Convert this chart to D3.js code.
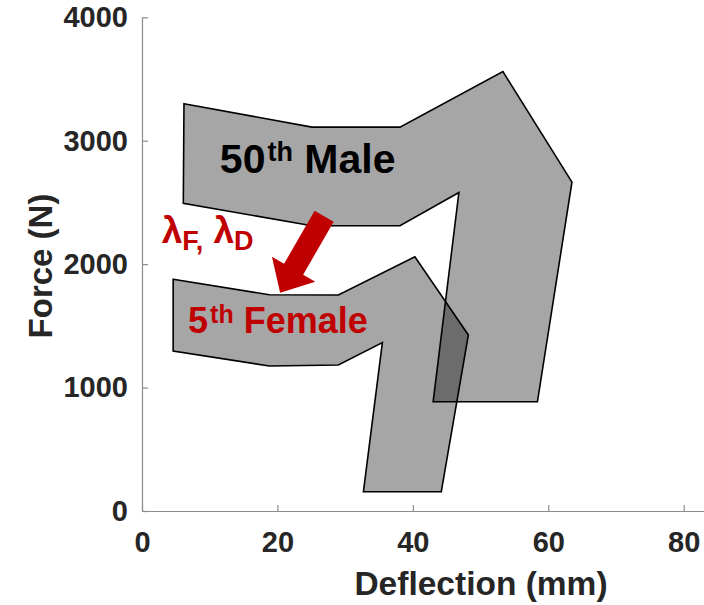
<!DOCTYPE html>
<html>
<head>
<meta charset="utf-8">
<script src="https://cdn.jsdelivr.net/npm/d3@7"></script>
<style>
  body { margin: 0; background: #fff; }
  svg { display: block; font-family: "Liberation Sans", Arial, sans-serif; }
</style>
</head>
<body>
<div id="chart"></div>
<script>
// polygon corridors (deflection mm, force N)
var maleDeflection = [6.2, 25.1, 38.1, 53.3, 63.5, 58.4, 43.0, 46.8, 38.1, 25.1, 6.1];
var maleForce      = [3300, 3110, 3110, 3560, 2665, 885, 885, 2580, 2311, 2311, 2493];
var femaleDeflection = [4.6, 18.8, 29.0, 40.3, 48.2, 44.2, 32.7, 35.5, 29.0, 18.8, 4.6];
var femaleForce      = [1877, 1752, 1750, 2060, 1426, 156, 156, 1364, 1183, 1175, 1296];

var xTicks = [0, 20, 40, 60, 80];
var yTicks = [0, 1000, 2000, 3000, 4000];

// arrow scaling path: start and tip (deflection, force)
var arrowFrom = [26.9, 2388];
var arrowTo   = [20.4, 1769];

var svgWidth = 704, svgHeight = 605;
var margin = {top: 17.3, right: 0, bottom: 94, left: 142};
var width = svgWidth - margin.left - margin.right;
var height = svgHeight - margin.top - margin.bottom;

var svg = d3.select("#chart").append("svg")
    .attr("width", svgWidth)
    .attr("height", svgHeight);

var chartGroup = svg.append("g")
    .attr("transform", `translate(${margin.left}, ${margin.top})`);

var xScale = d3.scaleLinear().domain([0, 83]).range([0, width]);
var yScale = d3.scaleLinear().domain([0, 4000]).range([height, 0]);

// corridors
function corridor(xs, ys){
    return xs.map((x, i) => [xScale(x), yScale(ys[i])]);
}
var polys = [corridor(maleDeflection, maleForce), corridor(femaleDeflection, femaleForce)];

chartGroup.selectAll("path.corridor")
    .data(polys)
    .enter()
    .append("path")
    .attr("class", "corridor")
    .attr("d", d => "M" + d.join("L") + "Z")
    .attr("fill", "#000")
    .attr("fill-opacity", 0.35)
    .attr("stroke", "#000")
    .attr("stroke-width", 1.6)
    .attr("stroke-linejoin", "miter");

// axes
var bottomAxis = d3.axisBottom(xScale).tickValues(xTicks)
    .tickSizeInner(-6).tickSizeOuter(0).tickPadding(20);
var leftAxis = d3.axisLeft(yScale).tickValues(yTicks)
    .tickFormat(d3.format("d"))
    .tickSizeInner(-6).tickSizeOuter(0).tickPadding(14);

var xAxis = chartGroup.append("g")
    .attr("transform", `translate(0, ${height})`)
    .call(bottomAxis);
var yAxis = chartGroup.append("g").call(leftAxis);

[xAxis, yAxis].forEach(function(ax){
    ax.select(".domain").attr("stroke", "#8c8c8c").attr("stroke-width", 1.2);
    ax.selectAll(".tick line").attr("stroke", "#8c8c8c").attr("stroke-width", 1.2);
    ax.selectAll(".tick text")
      .attr("fill", "#262626")
      .style("font-size", "29px")
      .style("font-weight", "bold")
      .style("font-family", "Liberation Sans, Arial, sans-serif");
});

// axis labels
svg.append("text")
    .attr("x", 481)
    .attr("y", 595)
    .attr("text-anchor", "middle")
    .attr("fill", "#262626")
    .style("font-size", "33.5px")
    .style("font-weight", "bold")
    .text("Deflection (mm)");

svg.append("text")
    .attr("transform", "translate(51.7, 266) rotate(-90)")
    .attr("text-anchor", "middle")
    .attr("fill", "#262626")
    .style("font-size", "33px")
    .style("font-weight", "bold")
    .text("Force (N)");

// arrow
var p0 = [xScale(arrowFrom[0]), yScale(arrowFrom[1])];
var p1 = [xScale(arrowTo[0]), yScale(arrowTo[1])];
var dx = p1[0] - p0[0], dy = p1[1] - p0[1];
var len = Math.sqrt(dx*dx + dy*dy);
var ux = dx/len, uy = dy/len, nx = -uy, ny = ux;
var shaftW = 22, headW = 50, headL = 27;
var hb = [p1[0] - ux*headL, p1[1] - uy*headL];
var arrowPts = [
    [p0[0] + nx*shaftW/2, p0[1] + ny*shaftW/2],
    [hb[0] + nx*shaftW/2, hb[1] + ny*shaftW/2],
    [hb[0] + nx*headW/2, hb[1] + ny*headW/2],
    p1,
    [hb[0] - nx*headW/2, hb[1] - ny*headW/2],
    [hb[0] - nx*shaftW/2, hb[1] - ny*shaftW/2],
    [p0[0] - nx*shaftW/2, p0[1] - ny*shaftW/2]
];
chartGroup.append("path")
    .attr("d", "M" + arrowPts.join("L") + "Z")
    .attr("fill", "#c00000");

// labels inside plot
var male = chartGroup.append("text")
    .attr("x", xScale(11.5))
    .attr("y", yScale(2736))
    .attr("fill", "#000")
    .style("font-size", "41px")
    .style("font-weight", "bold");
male.append("tspan").text("50");
male.append("tspan").attr("dy", -12).attr("dx", 2).style("font-size", "27px").text("th");
male.append("tspan").attr("dy", 12).text(" Male");

var female = chartGroup.append("text")
    .attr("x", xScale(6.8))
    .attr("y", yScale(1442))
    .attr("fill", "#c00000")
    .style("font-size", "36px")
    .style("font-weight", "bold");
female.append("tspan").text("5");
female.append("tspan").attr("dy", -10).attr("dx", 2).style("font-size", "25px").text("th");
female.append("tspan").attr("dy", 10).text(" Female");

var lam = chartGroup.append("text")
    .attr("x", xScale(2.9))
    .attr("y", yScale(2171))
    .attr("fill", "#c00000")
    .style("font-size", "37px")
    .style("font-weight", "bold");
lam.append("tspan").text("λ");
lam.append("tspan").attr("dy", 7).style("font-size", "27px").text("F,");
lam.append("tspan").attr("dy", -7).text(" λ");
lam.append("tspan").attr("dy", 7).style("font-size", "27px").text("D");
</script>
</body>
</html>
